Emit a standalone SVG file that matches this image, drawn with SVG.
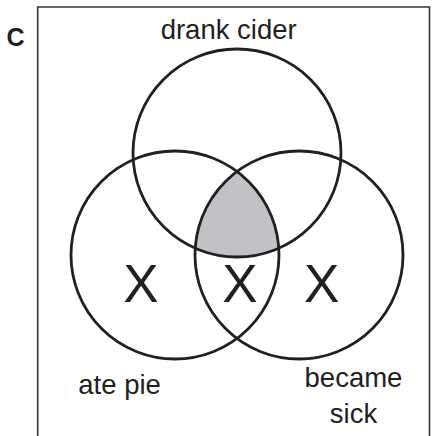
<svg xmlns="http://www.w3.org/2000/svg" width="432" height="436" viewBox="0 0 432 436">
  <style>
    .set { fill: none; stroke: #231f20; stroke-width: 2.8; }
    .lbl { font-family: "Liberation Sans", Arial, sans-serif; font-size: 27.5px; fill: #231f20; }
    .x { font-family: "Liberation Sans", Arial, sans-serif; font-size: 53px; fill: #231f20; text-anchor: middle; }
    .tag { font-family: "Liberation Sans", Arial, sans-serif; font-size: 25px; font-weight: bold; fill: #231f20; }
  </style>
  <rect width="432" height="436" fill="#ffffff"/>
  <path d="M37.7,436 V7 H429.5 V436" fill="none" stroke="#333333" stroke-width="1.6"/>
  <text class="tag" x="6.5" y="45.7">C</text>
  <g id="shaded">
    <path d="M237,171.5 A104,104 0 0 0 195.2,248.2 A104,104 0 0 0 278.8,248.2 A104,104 0 0 0 237,171.5 Z" fill="#c1c2c5"/>
  </g>
  <g id="drank-cider">
    <circle class="set" cx="237" cy="153" r="104"/>
    <text class="lbl" x="228.7" y="39.3" text-anchor="middle">drank cider</text>
  </g>
  <g id="ate-pie">
    <circle class="set" cx="175" cy="255" r="104"/>
    <text class="lbl" x="78.3" y="394">ate pie</text>
    <text class="x" x="141" y="301.7">X</text>
  </g>
  <g id="became-sick">
    <circle class="set" cx="299" cy="255" r="104"/>
    <text class="lbl" x="353.5" y="386.7" text-anchor="middle">became</text>
    <text class="lbl" x="353.5" y="423.3" text-anchor="middle">sick</text>
    <text class="x" x="321.7" y="301.7">X</text>
  </g>
  <g id="pie-and-sick">
    <text class="x" x="240" y="301.7">X</text>
  </g>
</svg>
